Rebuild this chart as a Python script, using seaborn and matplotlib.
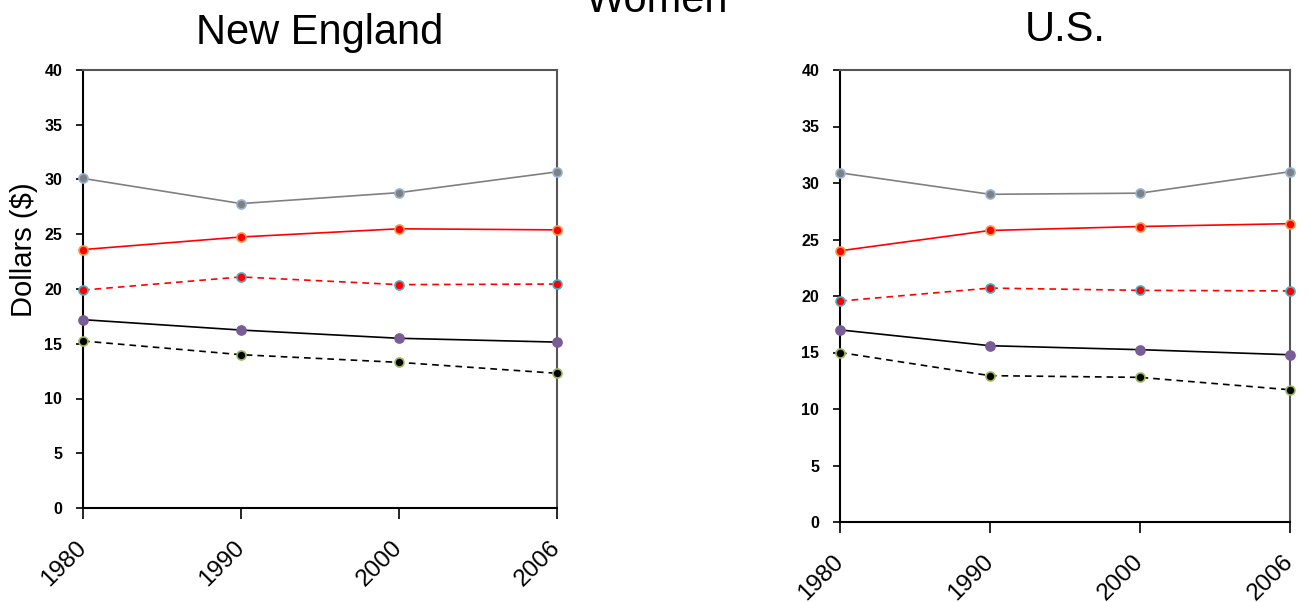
import matplotlib
matplotlib.use("Agg")
import matplotlib.pyplot as plt
import matplotlib.transforms as mtransforms
import seaborn as sns
import pandas as pd

years = ["1980", "1990", "2000", "2006"]
series_names = ["S1", "S2", "S3", "S4", "S5"]

ne_gray = [30.1, 27.8, 28.8, 30.7]
ne_red = [23.6, 24.75, 25.5, 25.4]
ne_red_dash = [19.9, 21.1, 20.4, 20.45]
ne_purple = [17.2, 16.25, 15.5, 15.15]
ne_black_dash = [15.25, 14.0, 13.3, 12.3]

us_gray = [30.9, 29.0, 29.1, 31.0]
us_red = [24.0, 25.8, 26.15, 26.4]
us_red_dash = [19.55, 20.7, 20.5, 20.45]
us_purple = [17.0, 15.6, 15.25, 14.8]
us_black_dash = [15.0, 12.95, 12.8, 11.7]

sns.set_theme(style="white")
plt.rcParams['font.family'] = ['Liberation Sans', 'DejaVu Sans']
plt.rcParams['text.color'] = 'black'
plt.rcParams['axes.labelcolor'] = 'black'
plt.rcParams['xtick.color'] = 'black'
plt.rcParams['ytick.color'] = 'black'

styles = [
    dict(color="#808080", mfc="#808080", mec="#95B3D7", ls="-"),
    dict(color="#FF0000", mfc="#FF0000", mec="#F79646", ls="-"),
    dict(color="#FF0000", mfc="#FF0000", mec="#4BACC6", ls=(0, (4, 3))),
    dict(color="#000000", mfc="#7A5C96", mec="#7A5C96", ls="-"),
    dict(color="#000000", mfc="#000000", mec="#9BBB59", ls=(0, (4, 3))),
]

fig = plt.figure(figsize=(13.1, 6.02), dpi=100)
ax1 = fig.add_axes([83/1310, 1-508/602, (557-83)/1310, (508-70)/602])
ax2 = fig.add_axes([840/1310, 1-522/602, (1290-840)/1310, (522-70)/602])

panels = [
    (ax1, "New England", 19, [ne_gray, ne_red, ne_red_dash, ne_purple, ne_black_dash]),
    (ax2, "U.S.", 21, [us_gray, us_red, us_red_dash, us_purple, us_black_dash]),
]

for ax, title, tpad, data in panels:
    for name, vals, st in zip(series_names, data, styles):
        df = pd.DataFrame({"year": years, "value": vals})
        sns.lineplot(data=df, x="year", y="value", ax=ax, color=st["color"],
                     linestyle=st["ls"], linewidth=1.2, marker="o", markersize=6.5,
                     markerfacecolor=st["mfc"], markeredgecolor=st["mec"],
                     markeredgewidth=1.2, sort=False, clip_on=False, zorder=3)
    ax.set_xlim(0, 3)
    ax.set_ylim(0, 40)
    ax.set_yticks(range(0, 41, 5))
    ax.set_yticklabels([str(v) for v in range(0, 41, 5)], fontsize=11.5, fontweight="bold")
    ax.set_xticks(range(4))
    ax.set_xticklabels(years, rotation=45, fontsize=17.5, ha="right", va="center",
                       rotation_mode="anchor")
    offset = mtransforms.ScaledTranslation(15/100, 0, fig.dpi_scale_trans)
    for lbl in ax.get_xticklabels():
        lbl.set_transform(lbl.get_transform() + offset)
    ax.set_xlabel("")
    ax.set_ylabel("")
    ax.set_title(title, fontsize=30, pad=tpad, color="black")
    ax.tick_params(axis="y", which="major", direction="out", length=5, width=1.2,
                   left=True, color="black", pad=10)
    ax.tick_params(axis="x", which="major", direction="out", length=8, width=1.2,
                   bottom=True, color="black", pad=18)
    for side in ["left", "bottom"]:
        ax.spines[side].set_color("black")
        ax.spines[side].set_linewidth(1.5)
    for side in ["top", "right"]:
        ax.spines[side].set_color("#555555")
        ax.spines[side].set_linewidth(1.5)
    for sp in ax.spines.values():
        sp.set_visible(True)
        sp.set_zorder(2)

ax1.set_ylabel("Dollars ($)", fontsize=21)
ax1.yaxis.set_label_coords(-0.095, 0.589)
fig.text(657/1310, 1 - 12/602, "Women", fontsize=30, ha="center", va="baseline")

fig.savefig("out.png", dpi=100, facecolor="white")
